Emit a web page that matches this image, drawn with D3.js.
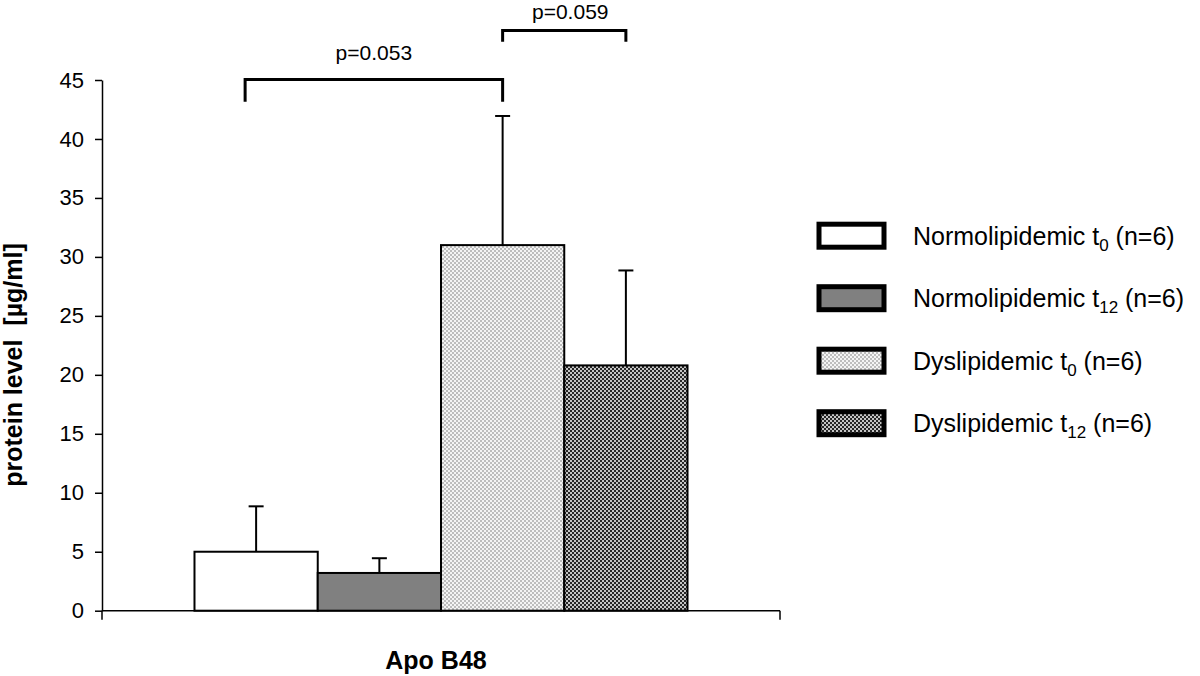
<!DOCTYPE html>
<html>
<head>
<meta charset="utf-8">
<script src="https://cdn.jsdelivr.net/npm/d3@7"></script>
<style>
  html, body { margin: 0; padding: 0; background: #fff; }
  svg { display: block; font-family: Arial, "Liberation Sans", sans-serif; }
</style>
</head>
<body>
<svg id="chart" width="1200" height="676"></svg>
<script>
// ---- data ----
const categories = ["Apo B48"];
const seriesNames = ["Normolipidemic", "Normolipidemic", "Dyslipidemic", "Dyslipidemic"];
const seriesSubs = ["0", "12", "0", "12"];
const seriesN = ["(n=6)", "(n=6)", "(n=6)", "(n=6)"];
const means = [5.0, 3.2, 31.0, 20.8];
const sds = [3.85, 1.25, 10.95, 8.05];
const yTicks = [0, 5, 10, 15, 20, 25, 30, 35, 40, 45];
const pLabels = ["p=0.053", "p=0.059"];
const pPairs = [[0, 2], [2, 3]];
const pLevels = [45.05, 49.2];
const pLegs = [1.9, 0.95];

(function () {
// ---- layout ----
const svg = d3.select("#chart");
const mLeft = 102, mRight = 780, mTop = 80, mBottom = 610.7;
const y = d3.scaleLinear().domain([0, 45]).range([mBottom, mTop]);
const x0 = d3.scaleBand().domain(categories).range([mLeft, mRight]).paddingInner(0).paddingOuter(0.1876);
const x1 = d3.scaleBand().domain(d3.range(means.length)).range([0, x0.bandwidth()]).padding(0);

// patterns
const defs = svg.append("defs");
function checker(id, c1, c2, s) {
  const p = defs.append("pattern").attr("id", id).attr("patternUnits", "userSpaceOnUse")
    .attr("width", 2 * s).attr("height", 2 * s);
  p.append("rect").attr("width", 2 * s).attr("height", 2 * s).attr("fill", c2);
  p.append("rect").attr("width", s).attr("height", s).attr("fill", c1);
  p.append("rect").attr("x", s).attr("y", s).attr("width", s).attr("height", s).attr("fill", c1);
}
checker("lightChk", "#bdbdbd", "#f4f4f4", 2);
checker("darkChk", "#262626", "#c4c4c4", 2);
const fills = ["#ffffff", "#808080", "url(#lightChk)", "url(#darkChk)"];

// y axis
const yAxis = d3.axisLeft(y).tickValues(yTicks).tickSize(7).tickSizeOuter(0).tickPadding(11);
const yg = svg.append("g").attr("transform", `translate(${mLeft},0)`).call(yAxis);
yg.select(".domain").attr("stroke", "#000").attr("stroke-width", 1.5);
yg.selectAll(".tick line").attr("stroke", "#000").attr("stroke-width", 1.5);
yg.selectAll(".tick text").attr("font-size", 22).attr("fill", "#000")
  .attr("font-family", "Arial, 'Liberation Sans', sans-serif");

// x axis (category axis with boundary ticks)
const xg = svg.append("g");
xg.append("line").attr("x1", x0.range()[0]).attr("x2", x0.range()[1])
  .attr("y1", y(0)).attr("y2", y(0)).attr("stroke", "#000").attr("stroke-width", 1.5);
xg.selectAll("line.bt").data(x0.range()).join("line").attr("class", "bt")
  .attr("x1", d => d).attr("x2", d => d).attr("y1", y(0)).attr("y2", y(0) + 9)
  .attr("stroke", "#000").attr("stroke-width", 1.5);
xg.selectAll("text.cat").data(categories).join("text").attr("class", "cat")
  .attr("x", d => x0(d) + x0.bandwidth() / 2 - 5).attr("y", 669)
  .attr("text-anchor", "middle").attr("font-weight", "bold").attr("font-size", 25).text(d => d);

// y title
svg.append("text").attr("transform", "translate(22,365) rotate(-90)")
  .attr("text-anchor", "middle").attr("font-weight", "bold").attr("font-size", 25)
  .style("white-space", "pre")
  .text("protein level  [µg/ml]");

// bars
const gx = x0(categories[0]);
const bars = svg.append("g");
bars.selectAll("rect").data(means).join("rect")
  .attr("x", (d, i) => gx + x1(i)).attr("width", x1.bandwidth())
  .attr("y", d => y(d)).attr("height", d => y(0) - y(d))
  .attr("fill", (d, i) => fills[i]).attr("stroke", "#000").attr("stroke-width", 2);

// error bars
const cx = i => gx + x1(i) + x1.bandwidth() / 2;
const eb = svg.append("g").attr("stroke", "#000").attr("stroke-width", 2);
means.forEach((m, i) => {
  eb.append("line").attr("x1", cx(i)).attr("x2", cx(i)).attr("y1", y(m)).attr("y2", y(m + sds[i]));
  eb.append("line").attr("x1", cx(i) - 7.5).attr("x2", cx(i) + 7.5).attr("y1", y(m + sds[i])).attr("y2", y(m + sds[i]));
});

// significance brackets
const legOffset = [[-11, 0], [0, 0]];
const labelGap = [19, 11];
const br = svg.append("g");
pPairs.forEach((pr, k) => {
  const xa = cx(pr[0]) + legOffset[k][0], xb = cx(pr[1]) + legOffset[k][1];
  const yt = y(pLevels[k]), yb = y(pLevels[k] - pLegs[k]);
  br.append("path").attr("d", `M${xa},${yb}V${yt}H${xb}V${yb}`)
    .attr("fill", "none").attr("stroke", "#000").attr("stroke-width", 3);
  br.append("text").attr("x", (xa + xb) / 2 + (k === 1 ? 6 : 0)).attr("y", yt - labelGap[k])
    .attr("text-anchor", "middle").attr("font-size", 21).text(pLabels[k]);
});

// legend
const lg = svg.append("g");
const ly0 = 235.7, lstep = 62.5;
seriesNames.forEach((nm, i) => {
  const yy = ly0 + i * lstep;
  lg.append("rect").attr("x", 819).attr("y", yy - 11.5).attr("width", 65).attr("height", 23)
    .attr("fill", fills[i]).attr("stroke", "#000").attr("stroke-width", 5);
  const t = lg.append("text").attr("x", 913).attr("y", yy + 9).attr("font-size", 25);
  t.append("tspan").text(nm + " t");
  t.append("tspan").attr("font-size", 17).attr("dy", 6).text(seriesSubs[i]);
  t.append("tspan").attr("dy", -6).text(" " + seriesN[i]);
});
})();
</script>
</body>
</html>
